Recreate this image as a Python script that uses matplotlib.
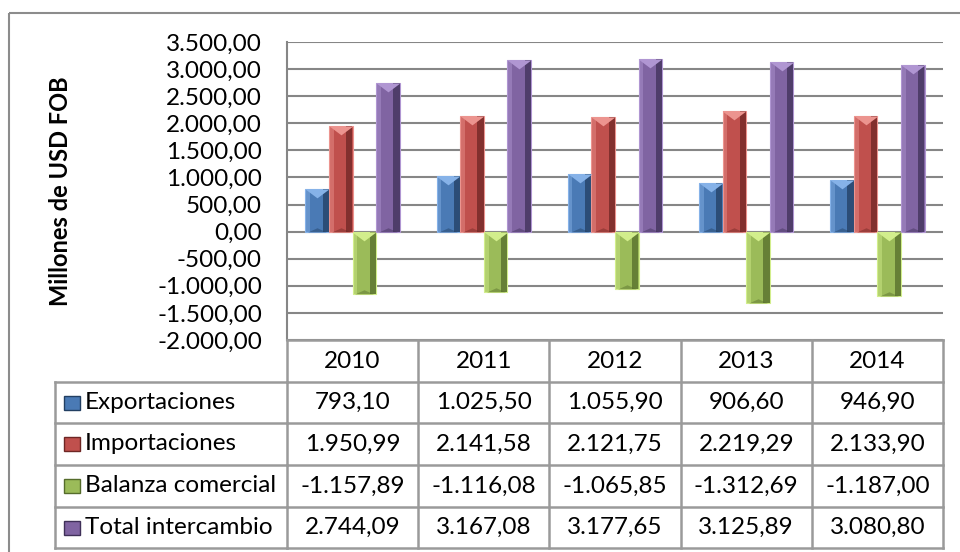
import numpy as np
import matplotlib
matplotlib.use("Agg")
import matplotlib.pyplot as plt
from matplotlib.patches import Rectangle
from matplotlib.transforms import blended_transform_factory

plt.rcParams['font.family'] = ['Lato', 'DejaVu Sans']

years = ["2010", "2011", "2012", "2013", "2014"]
series = ["Exportaciones", "Importaciones", "Balanza comercial", "Total intercambio"]
exportaciones = [793.10, 1025.50, 1055.90, 906.60, 946.90]
importaciones = [1950.99, 2141.58, 2121.75, 2219.29, 2133.90]
balanza = [-1157.89, -1116.08, -1065.85, -1312.69, -1187.00]
total = [2744.09, 3167.08, 3177.65, 3125.89, 3080.80]
yticks = np.arange(-2000, 3501, 500)

colors = ["#4A7AB5", "#C0504D", "#9BBB59", "#8064A2"]
darks = ["#223F62", "#6E2624", "#556C2B", "#3F3058"]
lights = ["#86B2E8", "#EC948F", "#D2EE8C", "#B096D2"]
grid_c = "#868686"
table_c = "#9A9A9A"
fs = 17.5


def fmt(v):
    s = f"{v:,.2f}"
    return s.replace(",", "X").replace(".", ",").replace("X", ".")


W, H = 960, 552
fig = plt.figure(figsize=(9.6, 5.52), dpi=100)

# plot area
ax = fig.add_axes([287 / W, 1 - 340 / H, (943 - 287) / W, (340 - 42) / H])
ax.set_xlim(-0.5, len(years) - 0.5)
ax.set_ylim(-2000, 3500)
ax.set_yticks(yticks)
ax.set_yticklabels([fmt(v) for v in yticks], fontsize=fs)
ax.tick_params(axis="y", length=0, pad=18)
ax.set_xticks([])
for side in ["top", "right", "bottom"]:
    ax.spines[side].set_visible(False)
ax.spines["left"].set_color(grid_c)
ax.spines["left"].set_linewidth(1.5)
ax.yaxis.grid(True, color=grid_c, linewidth=1.5)
ax.set_axisbelow(True)
ax.set_ylabel("Millones de USD FOB", fontsize=17, fontweight="bold")
ax.yaxis.set_label_coords(-0.327, 0.5)

x = np.arange(len(years))
w = 0.18
bar_pt = w * (943 - 287) / len(years) * 72 / 100
top_tri = [(-1, 0), (1, 0), (0, -0.75)]
bot_tri = [(-1, 0), (1, 0), (0, 0.45)]
all_vals = [exportaciones, importaciones, balanza, total]
for i, vals in enumerate(all_vals):
    pos = x + (i - 1.5) * w
    ax.bar(pos, vals, w, color=colors[i], edgecolor=lights[i], linewidth=0.8, zorder=3)
    ax.bar(pos + w * 0.36, vals, w * 0.26, color=darks[i], alpha=0.75, zorder=4)
    ax.bar(pos - w * 0.39, vals, w * 0.18, color=lights[i], alpha=0.45, zorder=4)
    tops = [max(v, 0) for v in vals]
    bots = [min(v, 0) for v in vals]
    ax.plot(pos, tops, linestyle="none", marker=top_tri, markersize=bar_pt,
            color=lights[i], markeredgewidth=0, zorder=5)
    ax.plot(pos, bots, linestyle="none", marker=bot_tri, markersize=bar_pt * 0.8,
            color=darks[i], alpha=0.45, markeredgewidth=0, zorder=5)

# data table
ov = fig.add_axes([0, 0, 1, 1])
ov.set_xlim(0, W)
ov.set_ylim(H, 0)
ov.axis("off")
ov.add_patch(Rectangle((9, 13), 960, 560, fill=False, edgecolor="#8C8C8C", linewidth=1.5))

tr = blended_transform_factory(ax.transData, ov.transData)
edges = np.arange(len(years) + 1) - 0.5
row_y = [340, 382, 423, 465, 507, 548]
x_left = 55

for e in edges:
    ov.plot([e, e], [row_y[0], row_y[-1]], color=table_c, linewidth=1.8, transform=tr)
ov.plot([edges[0], edges[-1]], [row_y[0], row_y[0]], color=table_c, linewidth=1.8, transform=tr)
for ry in row_y[1:]:
    ov.plot([x_left, 287], [ry, ry], color=table_c, linewidth=1.8)
    ov.plot([edges[0], edges[-1]], [ry, ry], color=table_c, linewidth=1.8, transform=tr)
ov.plot([x_left, x_left], [row_y[1], row_y[-1]], color=table_c, linewidth=1.8)

for j, yr in enumerate(years):
    ov.text(x[j], (row_y[0] + row_y[1]) / 2, yr, ha="center", va="center",
            fontsize=fs, transform=tr)

for i, name in enumerate(series):
    cy = (row_y[i + 1] + row_y[i + 2]) / 2
    ov.add_patch(Rectangle((64, cy - 7), 16, 14, facecolor=colors[i],
                           edgecolor=darks[i], linewidth=1))
    ov.text(85, cy, name, ha="left", va="center", fontsize=fs)
    for j, v in enumerate(all_vals[i]):
        ov.text(x[j], cy, fmt(v), ha="center", va="center", fontsize=fs, transform=tr)

fig.savefig("out.png", dpi=100)
